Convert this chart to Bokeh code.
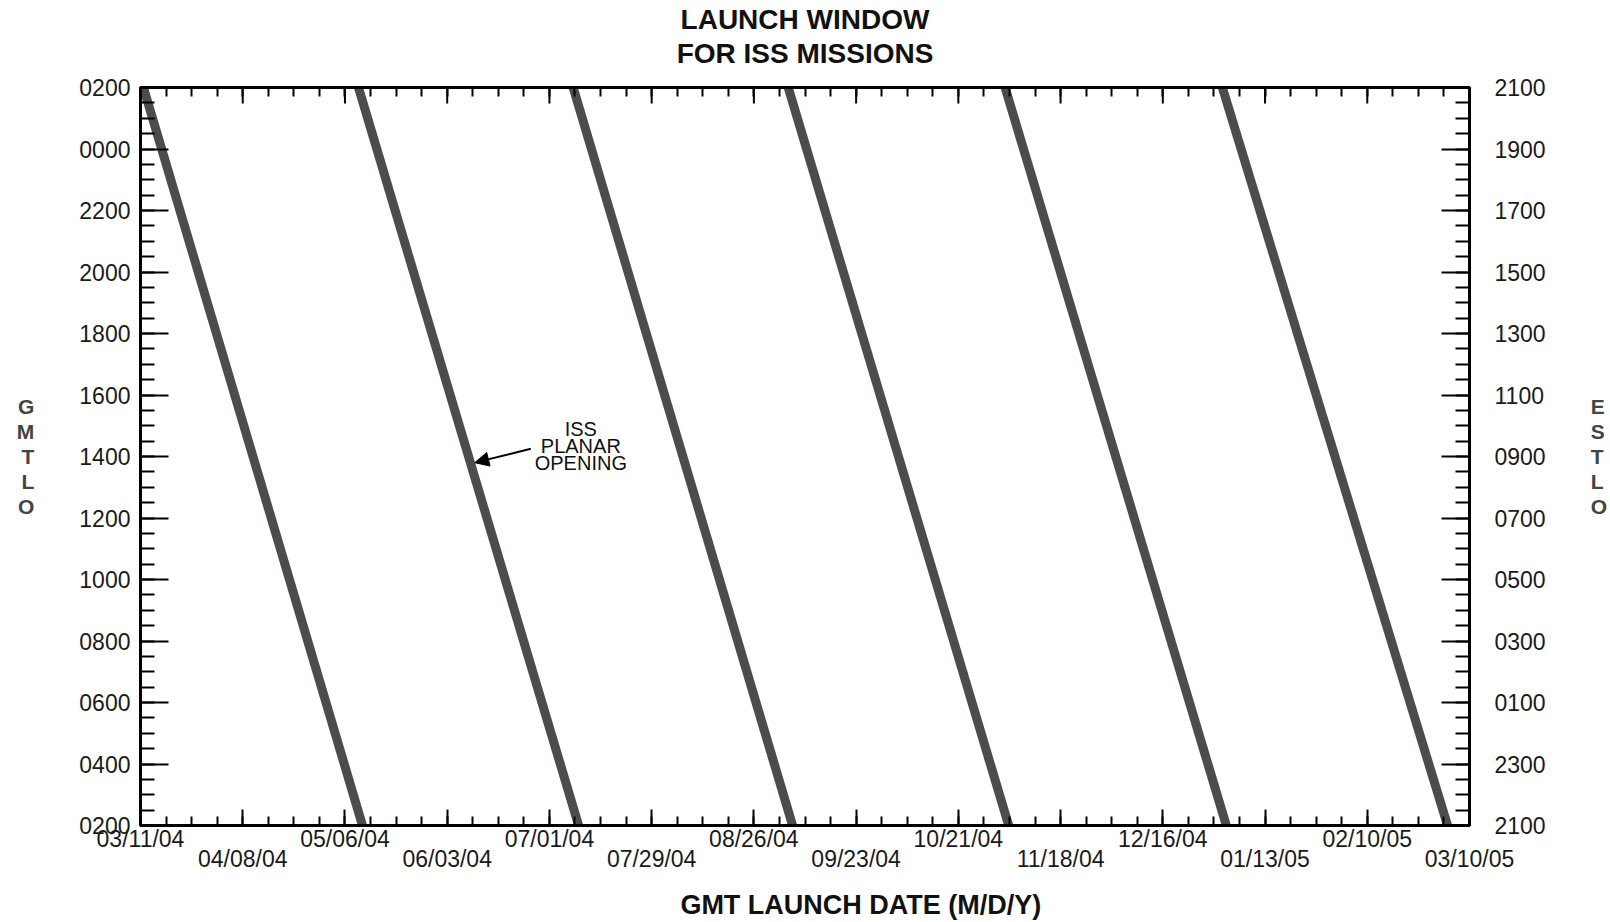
from bokeh.plotting import figure
from bokeh.models import (LinearAxis, FixedTicker, Title, Label, Arrow, NormalHead,
                          ColumnDataSource, Range1d)
from bokeh.embed import file_html
from bokeh.resources import INLINE

# ---------------- data ----------------
# x = days after 03/11/04 ; y = GMT hour of launch (2 = 0200, 26 = 0200 next day)
date_tick_labels = ["03/11/04", "04/08/04", "05/06/04", "06/03/04", "07/01/04",
                    "07/29/04", "08/26/04", "09/23/04", "10/21/04", "11/18/04",
                    "12/16/04", "01/13/05", "02/10/05", "03/10/05"]
date_tick_step = 28          # days between labelled dates
date_minor_step = 7          # weekly minor ticks

gmt_tick_hours = [2, 4, 6, 8, 10, 12, 14, 16, 18, 20, 22, 24, 26]
gmt_tick_labels = ["0200", "0400", "0600", "0800", "1000", "1200", "1400",
                   "1600", "1800", "2000", "2200", "0000", "0200"]
est_tick_labels = ["2100", "2300", "0100", "0300", "0500", "0700", "0900",
                   "1100", "1300", "1500", "1700", "1900", "2100"]

# ISS planar opening lines: start (top, 0200 GMT next day) and end (bottom, 0200 GMT)
line_start_day = [0.8, 59.7, 118.5, 177.4, 236.8, 296.3]
line_end_day = [60.8, 120.0, 178.6, 237.8, 297.4, 358.0]
line_start_gmt = [26, 26, 26, 26, 26, 26]
line_end_gmt = [2, 2, 2, 2, 2, 2]

annotation_text = "ISS\nPLANAR\nOPENING"
arrow_tip_gmt = 13.8
arrow_tail = (106.9, 14.25)
annotation_pos = (120.6, 14.35)

title_line1 = "LAUNCH WINDOW"
title_line2 = "FOR ISS MISSIONS"
x_title = "GMT LAUNCH DATE (M/D/Y)"
x_title_center_day = 197.3   # the x title sits right of centre in the original

# ---------------- figure ----------------
FONT = "Liberation Sans"
n_days = date_tick_step * (len(date_tick_labels) - 1)

p = figure(width=1610, height=922, output_backend="svg", toolbar_location=None,
           x_range=Range1d(0, n_days), y_range=Range1d(gmt_tick_hours[0], gmt_tick_hours[-1]),
           x_axis_type=None, y_axis_type=None,
           min_border_left=140, min_border_right=140, min_border_top=87, min_border_bottom=96)
p.xgrid.visible = False
p.ygrid.visible = False
p.outline_line_color = "black"
p.outline_line_width = 3
p.background_fill_color = "white"
p.border_fill_color = "white"

x_major = [i * date_tick_step for i in range(len(date_tick_labels))]
x_minor = list(range(0, n_days + 1, date_minor_step))
y_minor = [gmt_tick_hours[0] + 0.5 * i for i in range(int((gmt_tick_hours[-1] - gmt_tick_hours[0]) * 2) + 1)]


def style_axis(ax, major_in, minor_in, size="23px"):
    ax.axis_line_color = "black"
    ax.axis_line_width = 3
    ax.major_tick_in = major_in
    ax.major_tick_out = 0
    ax.minor_tick_in = minor_in
    ax.minor_tick_out = 0
    ax.major_tick_line_color = "black"
    ax.minor_tick_line_color = "black"
    ax.major_tick_line_width = 2
    ax.minor_tick_line_width = 2
    ax.major_label_text_font = FONT
    ax.major_label_text_font_size = size
    ax.major_label_text_color = "#1a1a1a"


# bottom axis: date labels on two alternating rows
xb = LinearAxis(ticker=FixedTicker(ticks=x_major, minor_ticks=x_minor))
style_axis(xb, 16, 9)
xb.major_label_overrides = {t: (lab if i % 2 == 0 else "\n" + lab) for i, (t, lab) in
                            enumerate(zip(x_major, date_tick_labels))}
xb.major_label_standoff = 0
xb.major_label_text_line_height = 0.8
p.add_layout(xb, "below")

# x axis title, carried by a tick-less axis so it can sit right of centre
xtitle_ax = LinearAxis(ticker=FixedTicker(ticks=[x_title_center_day], minor_ticks=[]))
style_axis(xtitle_ax, 0, 0, "27px")
xtitle_ax.axis_line_color = None
xtitle_ax.major_tick_line_color = None
xtitle_ax.minor_tick_line_color = None
xtitle_ax.major_label_overrides = {x_title_center_day: x_title}
xtitle_ax.major_label_text_font_style = "bold"
xtitle_ax.major_label_text_color = "#111111"
xtitle_ax.major_label_standoff = 14
p.add_layout(xtitle_ax, "below")

# top axis: weekly ticks, and the second title line as its only label
xt = LinearAxis(ticker=FixedTicker(ticks=[n_days / 2], minor_ticks=x_minor))
style_axis(xt, 0, 9, "28px")
xt.major_tick_line_color = None
xt.major_label_overrides = {n_days / 2: title_line2}
xt.major_label_text_font_style = "bold"
xt.major_label_text_color = "#111111"
xt.major_label_standoff = 19
p.add_layout(xt, "above")
# long ticks of the top axis at the labelled dates
p.ray(x=x_major, y=[gmt_tick_hours[-1]] * len(x_major), length=16, length_units="screen",
      angle=-90, angle_units="deg", line_color="black", line_width=2)

# first title line
p.add_layout(Title(text=title_line1, align="center", text_font=FONT,
                   text_font_style="bold", text_font_size="28px", text_color="#111111",
                   standoff=0), "above")

# left axis GMT
yl = LinearAxis(ticker=FixedTicker(ticks=gmt_tick_hours, minor_ticks=y_minor))
style_axis(yl, 28, 14)
yl.major_label_overrides = dict(zip(gmt_tick_hours, gmt_tick_labels))
yl.major_label_standoff = 10
yl.axis_label = "G\nM\nT\nL\nO"
yl.axis_label_orientation = "horizontal"
yl.axis_label_text_font = FONT
yl.axis_label_text_font_style = "bold"
yl.axis_label_text_font_size = "21px"
yl.axis_label_text_align = "center"
yl.axis_label_text_line_height = 1.08
yl.axis_label_standoff = 42
p.add_layout(yl, "left")

# right axis EST
yr = LinearAxis(ticker=FixedTicker(ticks=gmt_tick_hours, minor_ticks=y_minor))
style_axis(yr, 28, 14)
yr.major_label_overrides = dict(zip(gmt_tick_hours, est_tick_labels))
yr.major_label_standoff = 25
yr.axis_label = "E\nS\nT\nL\nO"
yr.axis_label_orientation = "horizontal"
yr.axis_label_text_font = FONT
yr.axis_label_text_font_style = "bold"
yr.axis_label_text_font_size = "21px"
yr.axis_label_text_align = "center"
yr.axis_label_text_line_height = 1.08
yr.axis_label_standoff = 42
p.add_layout(yr, "right")

# planar opening lines
src = ColumnDataSource(dict(x0=line_start_day, y0=line_start_gmt,
                            x1=line_end_day, y1=line_end_gmt))
p.segment(x0="x0", y0="y0", x1="x1", y1="y1", source=src,
          line_color="#4b4d4a", line_width=9, line_cap="butt")

# annotation
i2 = 1
frac = (line_start_gmt[i2] - arrow_tip_gmt) / (line_start_gmt[i2] - line_end_gmt[i2])
tip_x = line_start_day[i2] + frac * (line_end_day[i2] - line_start_day[i2])
p.add_layout(Arrow(end=NormalHead(size=14, fill_color="black", line_color="black"),
                   x_start=arrow_tail[0], y_start=arrow_tail[1],
                   x_end=tip_x + 1.2, y_end=arrow_tip_gmt,
                   line_color="black", line_width=2))
p.add_layout(Label(x=annotation_pos[0], y=annotation_pos[1], text=annotation_text,
                   text_align="center", text_baseline="middle", text_font=FONT,
                   text_font_size="20px", text_line_height=0.78, text_color="#111111"))

open("out.html", "w").write(file_html(p, INLINE))
